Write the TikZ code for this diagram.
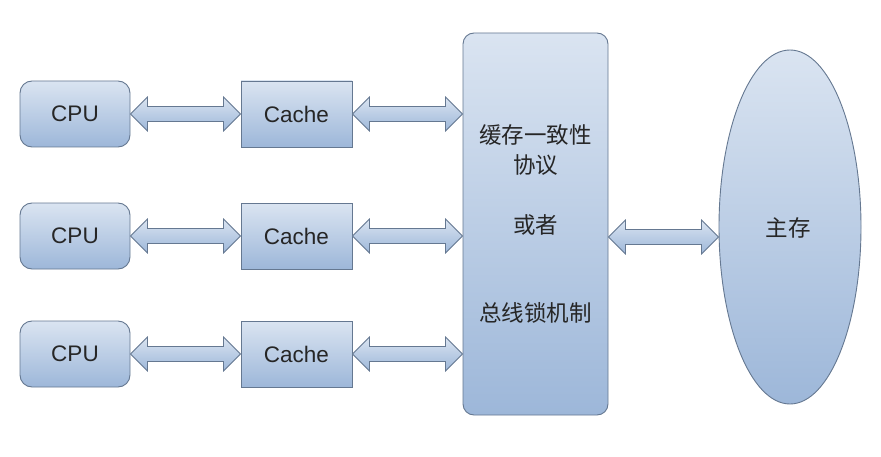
\documentclass[tikz,border=0pt]{standalone}
\usepackage{fontspec}
\setmainfont{Liberation Sans}
\newfontfamily\cjk{Noto Sans CJK SC}
\usetikzlibrary{calc,shapes.geometric}
\definecolor{boxtop}{HTML}{DAE4F1}
\definecolor{boxbot}{HTML}{9DB7D9}
\definecolor{boxline}{HTML}{657891}
\tikzset{
  unit/.style={draw=boxline, line width=0.9pt, top color=boxtop, bottom color=boxbot,
    minimum height=66pt, font=\fontsize{22.5}{26}\selectfont, text=black!85, inner sep=0pt},
  cpubox/.style={unit, rounded corners=12pt, minimum width=110pt},
  cachebox/.style={unit, minimum width=111pt},
  fatarrow/.style={draw=boxline, line width=0.8pt, top color=boxtop, bottom color=boxbot},
  cjktext/.style={font=\cjk\fontsize{22.5}{30}\selectfont, text=black!85, align=center}
}
\def\fatarrow(#1)(#2){\draw[fatarrow] (#1) -- ($(#1)+(17,17)$) -- ($(#1)+(17,7.5)$) -- ($(#2)+(-17,7.5)$) -- ($(#2)+(-17,17)$) -- (#2) -- ($(#2)+(-17,-17)$) -- ($(#2)+(-17,-7.5)$) -- ($(#1)+(17,-7.5)$) -- ($(#1)+(17,-17)$) -- cycle;}

\begin{document}
\begin{tikzpicture}[x=1pt, y=1pt]
	%%%%% START %%%%%
	\useasboundingbox[fill=white] (0, 0) rectangle (881, 456);
	
	\node[cpubox] (cpu1) at (75, 342) {CPU};
	\node[cpubox] (cpu2) at (75, 220) {CPU};
	\node[cpubox] (cpu3) at (75, 102) {CPU};
	
	\node[cachebox] (cache1) at (296.5, 342) {Cache};
	\node[cachebox] (cache2) at (296.5, 220) {Cache};
	\node[cachebox] (cache3) at (296.5, 102) {Cache};
	
	\node[unit, rounded corners=11pt, minimum width=145pt, minimum height=382pt] (bus) at (535.5, 232) {};
	\node[cjktext] (proto) at (535.5, 306) {缓存一致性\\协议};
	\node[cjktext] (either) at (535.5, 231) {或者};
	\node[cjktext] (lock) at (535.5, 143) {总线锁机制};
	
	\node[unit, ellipse, minimum width=142pt, minimum height=354pt] (mem) at (790, 229) {};
	\node[cjktext] (memtext) at (788, 228) {主存};
	
	\coordinate (bus1) at (cache1.east -| bus.west);
	\coordinate (bus2) at (cache2.east -| bus.west);
	\coordinate (bus3) at (cache3.east -| bus.west);
	\coordinate (busout) at ($(bus.east)+(0,-13)$);
	\coordinate (memin) at (busout -| mem.west);
	
	\fatarrow(cpu1.east)(cache1.west)
	\fatarrow(cpu2.east)(cache2.west)
	\fatarrow(cpu3.east)(cache3.west)
	
	\fatarrow(cache1.east)(bus1)
	\fatarrow(cache2.east)(bus2)
	\fatarrow(cache3.east)(bus3)
	
	\fatarrow(busout)(memin)
	
	%%%%% END %%%%%
\end{tikzpicture}
\end{document}
